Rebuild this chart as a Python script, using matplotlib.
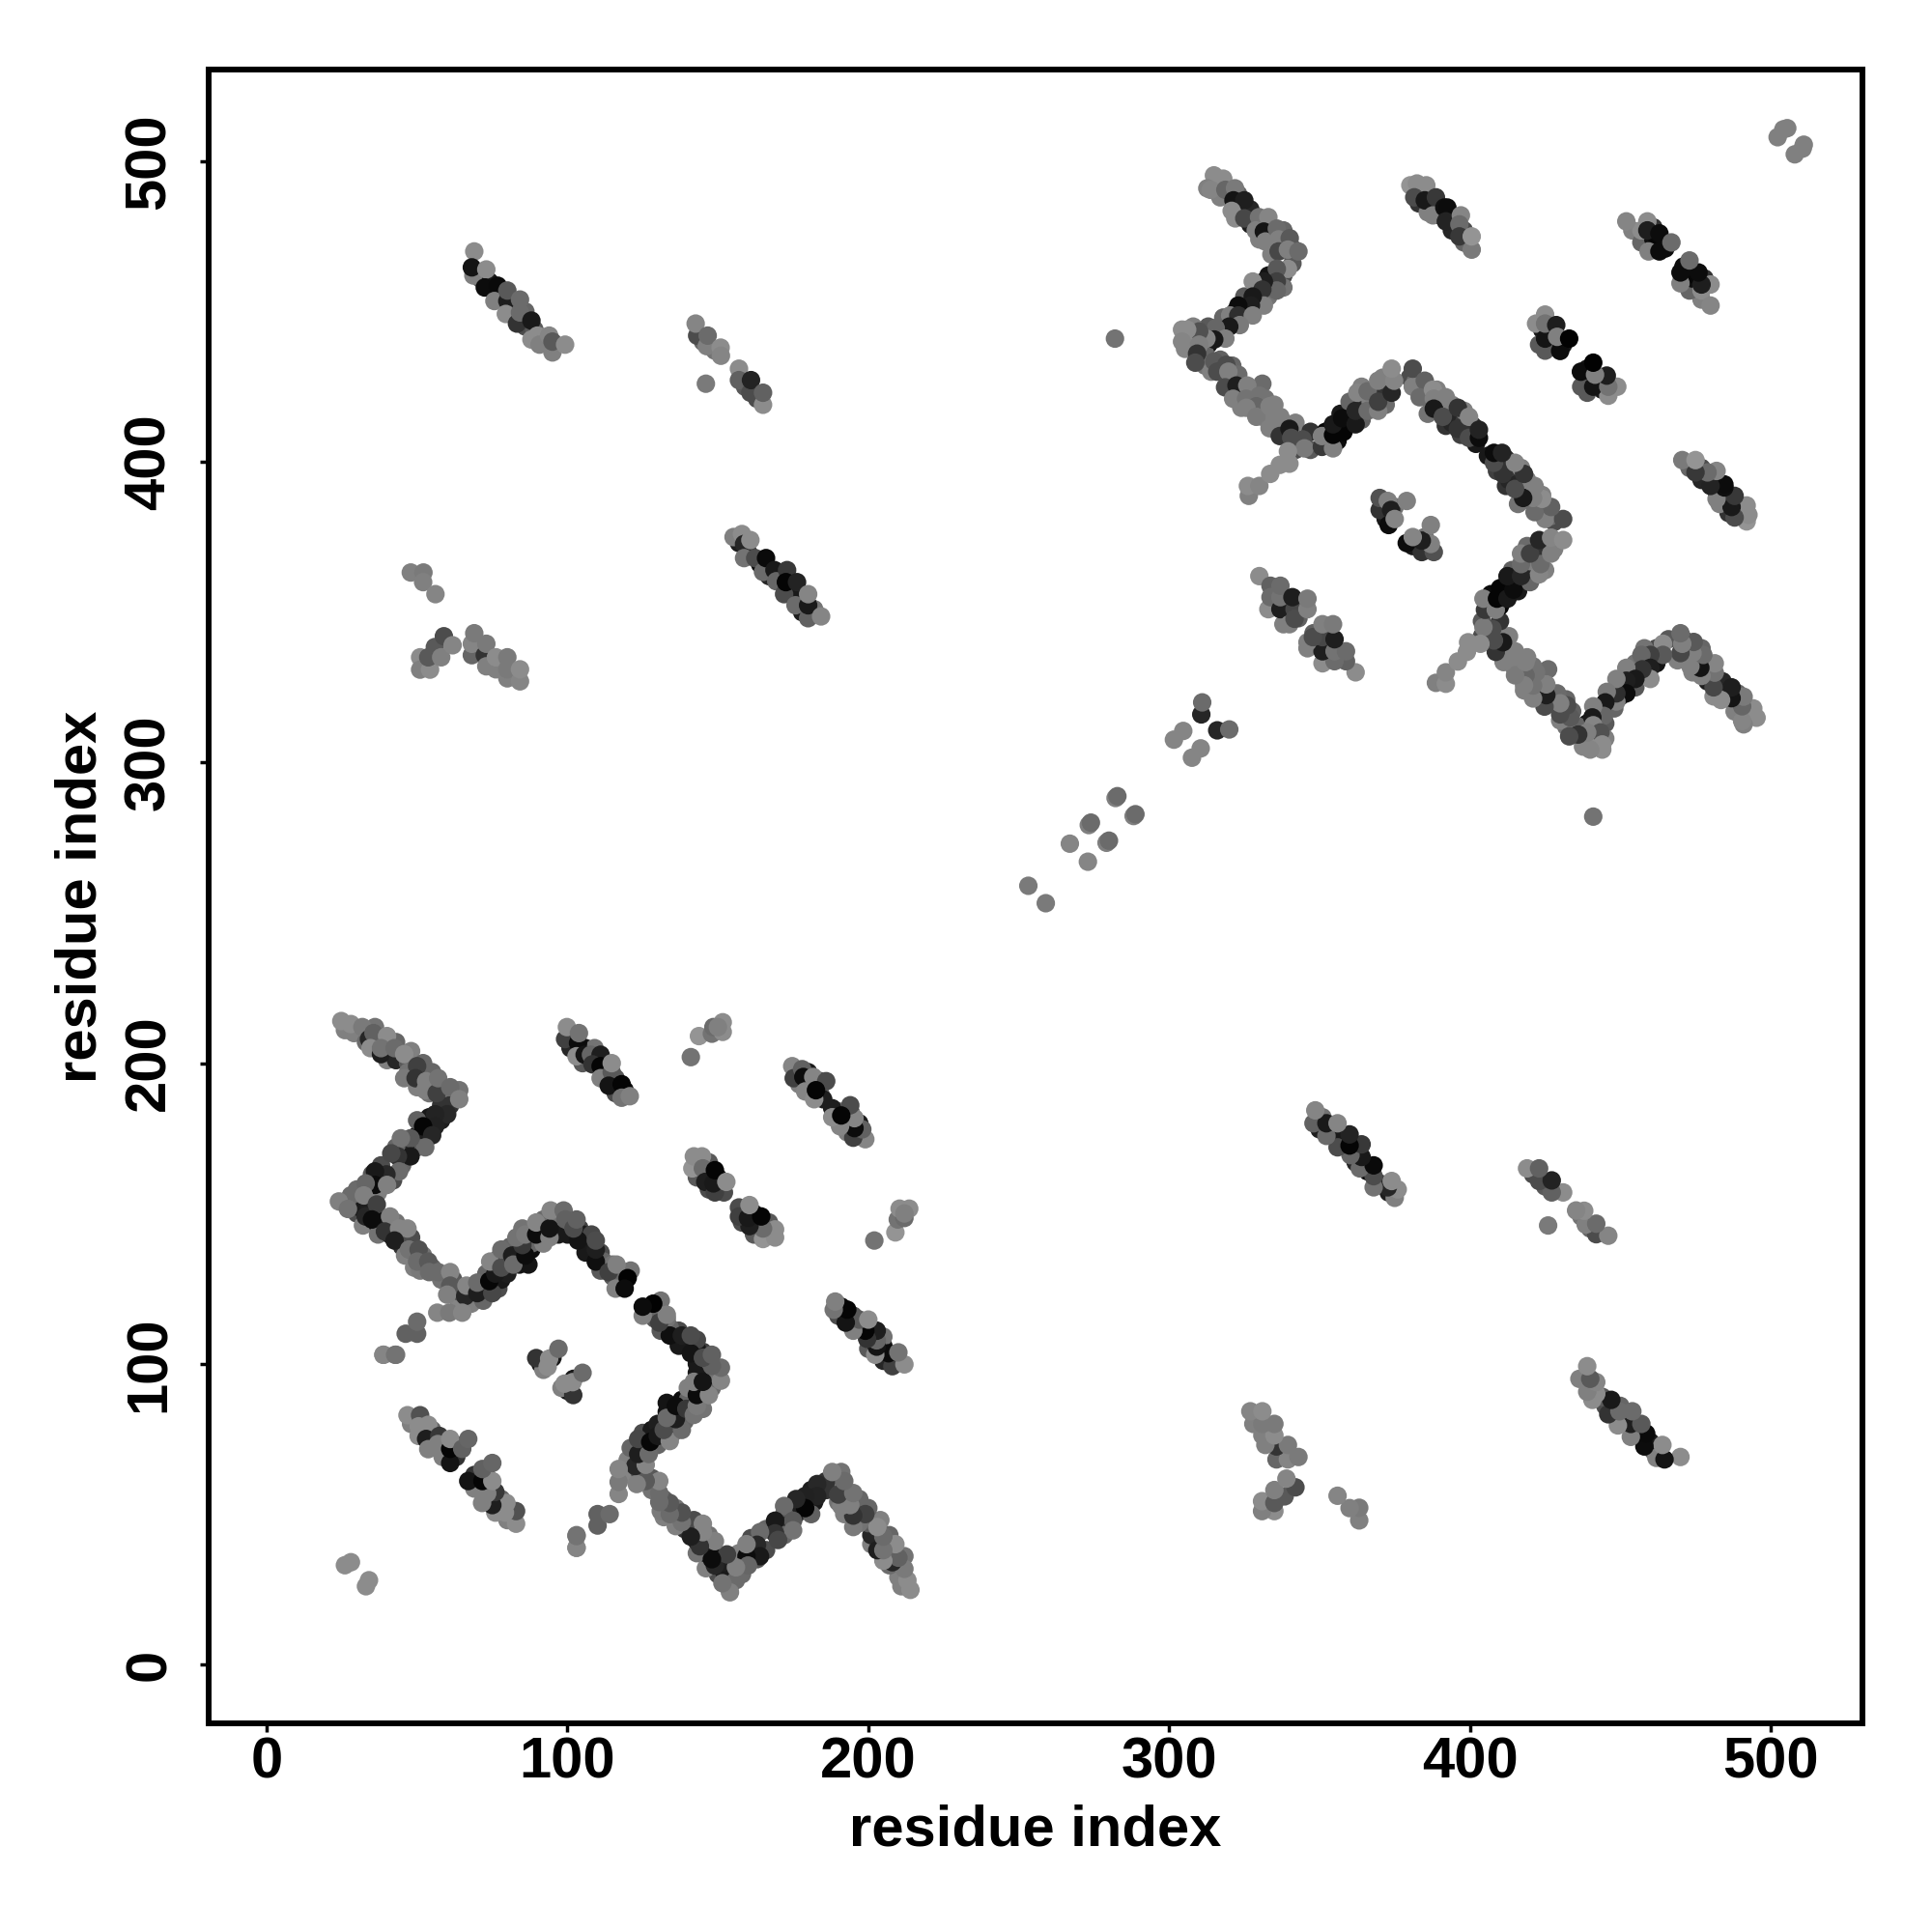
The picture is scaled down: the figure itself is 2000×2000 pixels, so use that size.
import numpy as np
import matplotlib
matplotlib.use("Agg")
import matplotlib.pyplot as plt

plt.rcParams['font.family'] = ['Liberation Sans', 'DejaVu Sans']

# contacts as (residue i, residue j, grey level), only i < j is listed,
# the map is symmetric so the other half is drawn by swapping i and j

# first domain, long zigzag
zigzag_a = [
    (24.8, 214, .55), (28, 213, .55), (31.8, 212, .48), (34, 208, .15), (35.5, 210, .38),
    (34.5, 205, .55), (38, 203, .12), (40, 209, .55), (38, 205, .45), (42.5, 205, .42),
    (45.7, 203, .55), (50, 199, .25), (45.7, 195, .48), (49.5, 195, .2), (53, 194, .5),
    (52.7, 191, .5), (56.5, 190, .25), (57, 195, .45), (61, 192, .42), (64, 188, .5),
    (60, 183, .16), (56, 183, .14), (56, 179, .13), (52, 179, .02), (55, 176, .15),
    (52.7, 172, .42), (47.8, 175, .35), (44.6, 175, .45), (47.8, 169, .1), (43.6, 169, .2),
    (41.4, 170, .28), (44, 164, .42), (39.8, 163, .16), (36, 164, .1), (36, 159.5, .05),
    (40, 159.5, .5), (32.9, 160, .4), (28, 156, .42), (24, 154, .5), (27, 151.5, .45),
    (32.3, 156, .5), (32.9, 149, .15), (36.6, 153, .25), (35, 148, .05), (41, 149, .5),
    (39.3, 144, .2), (44, 145, .52), (46.8, 145, .52), (42.5, 141, .12), (47.3, 138, .45),
    (50.5, 138, .32), (50, 134, .42), (53.7, 134, .35), (54, 130.5, .42), (57, 130.5, .42),
    (61, 130.5, .52), (61, 126, .35), (60, 123, .5), (66, 122.5, .15), (66.4, 126, .52),
    (70, 123.5, .12), (70, 127, .42), (75, 123.5, .28), (74, 127.5, .03), (76, 130, .1),
    (74.3, 134, .52), (78, 132, .3), (78, 138, .42), (81.6, 136, .12), (82, 133, .42),
    (86, 136, .05), (85, 139.5, .22), (83, 142, .45), (86, 143, .48), (89.6, 143, .05),
    (89.6, 147, .52), (94, 142, .5), (94, 145, .08), (94.4, 151, .52), (98.7, 151, .42),
    (99.3, 148, .38), (103.5, 141, .08), (102, 145, .3), (103, 148, .38), (109.4, 134, .06),
    (109.4, 138, .12), (109.4, 141, .3), (113.7, 130.5, .25), (116.3, 133, .5), (116, 125, .5),
    (120, 128.5, .01), (119, 125, .05),
]
zigzag_a_under = [
    (26, 211, .5), (29, 210, .5), (33, 207, .42), (36, 212, .45), (37, 207, .1), (41, 206, .2),
    (40, 201, .5), (43, 207, .4), (43, 201, .15), (47, 200, .35), (48, 204, .5), (47, 197, .45),
    (51, 196, .15), (52, 200, .4), (50, 192, .5), (55, 197, .4), (54, 190, .45), (58, 192, .3),
    (58, 188, .4), (62, 188, .35), (60, 190, .45), (64, 191, .45),
    (61, 186, .2), (58, 186, .2), (58, 181, .12), (54, 182, .1), (54, 178, .15), (50, 176, .1),
    (50, 181, .38), (52, 175, .12), (50, 172, .35), (46, 172, .15), (43, 172, .4), (45, 166, .4),
    (38, 166, .3), (42, 161, .3), (38, 161, .15), (35, 163, .35), (34, 158, .2), (37, 157, .5),
    (30, 158, .42),
    (26, 154, .5), (29, 153, .45), (30, 150, .3), (32, 146, .5), (31, 152, .1), (34, 152, .12),
    (36, 150, .05), (37, 146, .1), (37, 143, .45), (40, 146, .1), (41, 143, .15), (44, 142, .1),
    (45, 139, .2), (43, 147, .45), (48, 142, .3), (46, 136, .5), (52, 136, .45), (49, 132, .5),
    (51, 131, .48), (55, 132, .4), (58, 128, .45), (62, 128, .35), (62, 123, .45), (64, 120, .52),
    (64, 124, .3),
    (68, 120, .5), (68, 124, .2), (72, 121, .4), (72, 125, .12), (77, 125, .3), (75, 129, .05),
    (78, 128, .1), (73, 130, .4), (80, 130, .12), (77, 135, .42), (79, 135, .05), (84, 133, .08),
    (81, 139, .4), (84, 137, .3), (87, 133, .08), (88, 138, .05), (85, 145, .45), (88, 140, .4),
    (92, 140, .5), (91, 145, .35), (92, 148, .42), (96, 146, .35), (97, 143, .1), (96, 150, .45),
    (100, 143, .1), (104, 145, .25), (105, 143, .1), (101, 147, .4), (106, 140, .05), (108, 143, .28),
    (106, 137, .1), (111, 137, .3), (112, 134, .4), (111, 131, .35), (115, 129, .35), (118, 130, .4),
    (115, 133, .45), (121, 131, .45),
]
zigzag_a_tail = [
    (38.8, 103, .52), (43, 103, .45), (46.2, 110, .38), (50, 110, .38), (50, 114, .42),
    (56.7, 117, .52), (60.7, 117, .48), (65, 117, .52), (26, 33, .55), (28, 34, .55),
    (38.8, 103, .52), (42.7, 103, .45),
]

# first domain, short strands
strand_a1 = [
    (99.2, 208, .25), (99.8, 212, .55), (103.5, 206.7, .05), (103.8, 210, .45), (103, 202.3, .55),
    (105.7, 202.8, .08), (107.8, 202.8, .4), (111, 202.8, .12), (108.3, 199.6, .2), (111, 199, .02),
    (111, 195, .5), (114.7, 197, .35), (114.7, 200, .55), (113.7, 192.5, .08), (118, 193, .02),
    (118, 188.5, .45), (120.7, 189, .5),
]
strand_a2 = [
    (141, 202, .45), (143.7, 209, .58), (148, 209.8, .45), (148.5, 212, .42), (151.6, 210.4, .55),
    (151.6, 213.6, .55), (150, 212, .5),
]
strand_a3 = [
    (174.7, 199, .52), (175.2, 195, .25), (178, 198, .38), (178.4, 195.4, .05), (181.7, 195.4, .52),
    (186, 194, .3), (179, 190.6, .52), (182, 188, .55), (182.6, 191, .02),
]
strand_a4 = [
    (141.5, 165, .58), (142, 169, .55), (144.7, 169, .55), (145, 165, .42), (145.8, 160.5, .12),
    (149, 157, .25), (148.5, 160, .1), (149, 164.4, .02), (152.8, 160.5, .55),
]
strand_a5 = [
    (46.8, 82.9, .55), (51, 82.9, .32), (50.5, 79.2, .55), (53.7, 79.7, .55), (50.5, 76, .55),
    (53, 75, .12), (53.7, 71.6, .5), (57.4, 76, .22), (56.9, 73.3, .5), (58.5, 69, .5),
    (61, 67, .08), (61, 71.7, .02), (61, 75, .55), (65, 71.7, .38), (67, 75, .4),
]
strand_a6 = [
    (89.6, 101.9, .2), (93.4, 99, .55), (93.9, 101.7, .55), (97, 105, .42),
]
strand_under = [
    (101, 205, .15), (102, 209, .4), (106, 205, .1), (109, 205, .45), (105, 200, .35), (112, 198, .2),
    (116, 195, .35), (116, 190, .3), (119, 191, .05),
    (176, 197, .4), (177, 193, .5), (180, 197, .1), (180, 193, .08), (184, 194, .3), (184, 190, .45),
    (183, 193, .1), (185, 188, .12),
    (143, 167, .45), (143, 162, .35), (147, 167, .35), (147, 163, .1), (147, 158, .3), (150, 162, .1),
    (150, 159, .05), (152, 157, .3),
    (48, 80, .5), (52, 77, .3), (55, 78, .4), (55, 73, .15), (58, 72, .2), (59, 74, .4), (63, 69, .2),
    (63, 73, .3), (60, 69, .4),
    (91, 100, .1), (95, 102, .1), (92, 98, .5),
    (383, 490, .45), (383, 486, .2), (386, 483, .5), (389, 485, .12), (390, 482, .15), (393, 482, .4),
    (394, 477, .15), (398, 473, .4), (398, 477, .3),
    (454, 477, .5), (457, 473, .4), (461, 474, .06), (461, 478, .2), (462, 472, .03), (465, 471, .05),
    (424, 444, .1), (427, 443, .4), (427, 439, .05), (431, 439, .1), (423, 439, .35),
    (371, 386, .2), (372, 381, .1), (375, 385, .45),
    (335, 356, .35), (335, 352, .1), (339, 353, .12), (339, 349, .45), (343, 352, .4), (343, 348, .38),
    (338, 346, .5),
]

# contacts between the two domains
cross_under = [
    (70, 463, .3), (71, 461, .4), (74, 460, .1), (78, 456, .1), (82, 452, .3), (86, 450, .4),
    (86, 445, .3), (89, 444, .35), (92, 440, .4),
    (145, 440, .4), (149, 437, .45), (159, 425, .35), (163, 421, .3),
    (157, 373, .12), (160, 370, .2), (164, 366, .05), (167, 362, .15), (170, 362, .05), (174, 358, .12),
    (177, 355, .1), (178, 350, .12), (182, 351, .45),
    (70, 337, .45), (75, 333, .15), (78, 333, .45), (82, 330, .45),
]
cross_1 = [
    (69, 470, .55), (68.7, 462, .5), (68.2, 464.7, .08), (73, 464, .55), (72.5, 458, .05),
    (76.8, 458.6, .04), (75.7, 453.5, .5), (80, 453.5, .12), (80, 457, .35), (79.5, 449.2, .55),
    (83.2, 446, .2), (84.2, 449.7, .42), (84.2, 454, .42), (88, 447, .1), (88, 440.7, .55),
    (90, 442, .55), (90.7, 439, .5), (93.9, 442, .52), (95, 436.4, .5), (95, 440, .35), (99.2, 439, .55),
]
cross_2 = [
    (143.1, 442, .3), (142.6, 446, .52), (146.3, 438.5, .5), (146.6, 442, .42), (150.9, 438, .55),
    (151, 435.3, .52), (157, 431, .55), (157, 427.2, .38), (160.8, 423, .3), (161, 427.2, .14),
    (165, 419, .55), (165, 423, .38), (146, 426, .48),
]
cross_3 = [
    (155.2, 375, .5), (158, 376, .55), (158.7, 372.7, .15), (158.7, 368, .45), (160.8, 374, .55),
    (162.4, 368, .3), (165, 363.4, .42), (166, 368, .04), (168.8, 364, .1), (169.4, 360.3, .4),
    (173, 364, .22), (172, 356, .3), (172.6, 360, .02), (176.3, 360, .14), (175.8, 352.3, .42),
    (180, 348, .38), (180, 352.3, .1), (180, 356, .52), (184.3, 348.6, .52),
]
cross_4 = [
    (47.9, 363.2, .5), (52.1, 363.2, .48), (52, 360, .5), (56.1, 356, .52),
    (51, 335, .55), (51, 330.9, .5), (54.3, 330.9, .55), (53.7, 335, .35), (55.9, 338.4, .35),
    (58, 335, .5), (58.9, 342, .3), (61.8, 339, .52),
    (68.2, 335.7, .4), (68.2, 339.5, .52), (69, 343, .48), (72.5, 335.7, .2), (73, 332, .5),
    (73, 339.5, .48), (76.2, 331, .5), (76.2, 335, .55), (80, 328, .5), (80, 331, .48),
    (80, 335, .48), (84.2, 327, .52), (84.2, 331, .55),
]
cross_5 = [(282, 441, .45)]

# second domain, long zigzag
zigzag_b_under = [
    (316, 492, .5), (320, 488, .12), (317, 488, .5), (323, 489, .4), (323, 484, .35), (327, 484, .15),
    (327, 479, .12), (322, 481, .55), (330, 478, .1), (334, 477, .12), (330, 474, .5), (334, 472, .45),
    (338, 477, .4), (338, 472, .35), (341, 471, .3), (334, 469, .5),
    (341, 466, .35), (338, 462, .3), (338, 458, .45), (333, 462, .08), (333, 455, .45), (329, 457, .1),
    (325, 455, .35), (329, 452, .12), (325, 449, .1), (322, 450, .18), (318, 444, .12), (318, 448, .4),
    (313, 445, .35), (313, 439, .08), (307, 441, .55), (308, 445, .5),
    (312, 436, .4), (312, 432, .45), (317, 434, .38), (314, 430, .5), (321, 428, .3), (321, 432, .4),
    (320, 426, .4), (323, 429, .42), (327, 424, .42), (324, 418, .5), (331, 426, .42), (332, 421, .45),
    (331, 415, .5), (335, 419, .5), (335, 414, .5), (338, 411, .4), (335, 411, .5), (342, 413, .5),
    (342, 404, .3), (347, 410, .2), (347, 404, .35),
    (352, 410, .02), (352, 406, .2), (356, 407, .05), (359, 412, .04), (357, 416, .1), (361, 415, .08),
    (364, 414, .38), (364, 419, .18), (360, 420, .4), (364, 425, .5), (367, 420, .5), (371, 425, .2),
    (372, 419, .42), (371, 428, .5),
    (380, 428, .3), (382, 427, .42), (384, 424, .45), (387, 420, .45), (386, 416, .45), (389, 424, .5),
    (390, 418, .12), (392, 412, .2), (394, 419, .5), (394, 413, .15), (398, 413, .22), (398, 417, .5),
    (401, 412, .2), (397, 409, .25), (402, 406, .1),
]
zigzag_b = [
    (314.9, 495.3, .55), (318, 494.2, .55), (312.7, 491, .5), (313.8, 490.5, .52), (318.7, 490.5, .4),
    (321.9, 491, .48), (321.4, 487, .08), (325, 487, .12), (320.8, 483.5, .55), (325, 481, .28),
    (329.9, 481.4, .45), (333, 481.4, .52), (328.8, 477, .5), (331.5, 476.6, .08), (332, 473.3, .5),
    (335.8, 477.6, .42), (336.4, 474, .5), (340.1, 474.4, .35), (336.4, 470, .28), (339.5, 470.6, .5),
    (343, 470, .42),
    (339.5, 464.2, .55), (335.8, 464.2, .35), (335.8, 460, .25), (335.8, 457, .4), (331.5, 460, .12),
    (327.8, 460, .55), (331, 457.3, .2), (331.5, 452, .5), (327.8, 455, .1), (327.2, 452, .12),
    (323, 452, .05), (320.3, 448.7, .5), (323, 448.7, .18), (327.8, 448.7, .5), (323.5, 445.5, .48),
    (320, 445, .1), (315.5, 444.5, .4), (318.7, 441, .5), (315, 440.7, .1), (312.4, 441, .52),
    (310, 443.4, .32), (306, 444, .55), (304.3, 444, .55), (304.3, 440, .52), (305.3, 437.6, .52),
    (310, 439, .5), (309.3, 436, .2), (308.7, 433, .3), (315, 433.4, .35), (319, 432.3, .3),
    (316, 430, .3), (319.7, 430, .5), (318.6, 424.8, .3), (322.4, 425.4, .12), (326, 425.4, .5),
    (321.3, 421, .5), (325.6, 421, .45), (330, 422, .45), (329, 418.5, .4), (325.7, 418, .5),
    (329, 415, .48), (333.4, 418.5, .5), (333.4, 411.2, .5), (337, 415, .5), (336.8, 408.6, .2),
    (340, 411, .1), (340.6, 408, .3), (344.4, 407.5, .3), (345, 404.5, .48), (350.8, 405, .22),
    (350.8, 408.6, .5), (354.5, 404.5, .5), (354.5, 409, .02), (358, 410, .02), (354.5, 412.5, .1),
    (357.5, 414.5, .05), (362, 412.5, .1), (362, 417, .15), (366, 417, .42), (362.6, 423, .52),
    (366, 423.5, .42), (369.5, 417, .5), (369.5, 420, .25), (369.5, 427, .5), (374, 423, .15),
    (374.8, 427, .52), (374, 431, .55),
    (381, 425, .5), (381, 431, .3), (385, 427, .38), (383.3, 421.5, .42), (387.7, 424, .55),
    (388, 421, .5), (392, 421.5, .5), (388, 417.7, .1), (391, 415, .3), (396, 418, .2),
    (396, 411, .2), (399.7, 415, .52), (399.7, 408, .3), (403, 408, .05), (403, 410.7, .14),
]
zigzag_b_tail = [
    (326.5, 388.7, .5), (326.2, 392, .55), (330, 392, .52), (333.6, 396, .55), (336.8, 399, .55),
    (340, 399.4, .55), (339.5, 403.5, .55),
]

# second domain, short strands
strand_b1 = [
    (380.2, 492, .58), (382.4, 492.6, .55), (385.5, 492, .55), (381.5, 488, .3), (385, 487, .1),
    (388.7, 488, .22), (387.7, 482, .5), (391.5, 484.6, .06), (392.5, 484.6, .05), (392, 480, .14),
    (397, 482, .52), (396.5, 479, .42), (396.5, 475, .22), (400.6, 470.6, .48), (400.6, 475, .58),
]
strand_b2 = [
    (459.4, 470, .5), (463, 470, .05), (457, 477, .55), (459, 480, .55), (452, 480, .52),
    (459, 477, .12), (463, 476, .05), (467, 473, .42),
]
strand_b3 = [
    (422, 446, .55), (425, 449, .55), (425, 437, .35), (425, 441, .08), (425, 446, .45),
    (428.7, 445.5, .12), (430, 436.9, .05), (429, 441.6, .5), (433, 441, .01),
]
strand_b4 = [
    (370, 384, .2), (370, 388, .32), (372.7, 387, .5), (373, 379, .05), (373.8, 384, .12),
    (375, 381, .52), (379, 387, .5),
]
strand_b5 = [
    (330, 362, .55), (333, 351, .55), (333.7, 358.8, .38), (333.7, 355, .42), (337, 351, .12),
    (337, 355, .45), (337, 358.8, .42), (340, 346, .5), (341.7, 351, .28), (341.7, 347.8, .3),
    (341, 355, .12), (346, 351, .5), (346, 354.5, .48),
]

# close to the diagonal
near_diag = [
    (253.2, 259, .48), (267, 273, .52), (273.3, 279.2, .5), (274, 280, .42), (282.2, 288.2, .5),
    (282.8, 288.8, .42), (304.7, 310.5, .52), (301.6, 307.6, .52), (310.7, 316, .15), (311, 320, .42),
    (504.2, 510.6, .5), (505.5, 511, .5), (502.3, 508, .5),
]

clusters = [zigzag_a_under, zigzag_b_under, strand_under, cross_under,
            zigzag_a, zigzag_a_tail, strand_a1, strand_a2, strand_a3, strand_a4, strand_a5, strand_a6,
            cross_1, cross_2, cross_3, cross_4, cross_5,
            zigzag_b, zigzag_b_tail, strand_b1, strand_b2, strand_b3, strand_b4, strand_b5, near_diag]

tick_values = [0, 100, 200, 300, 400, 500]

contacts = np.array([p for c in clusters for p in c])
i, j, grey = contacts[:, 0], contacts[:, 1], contacts[:, 2]

fig = plt.figure(figsize=(20, 20), dpi=100)
ax = fig.add_axes([216 / 2000, 216 / 2000, 1712 / 2000, 1712 / 2000])

ax.scatter(np.concatenate([i, j]), np.concatenate([j, i]), c=np.concatenate([grey, grey]),
           cmap="gray", vmin=0, vmax=1, s=190, linewidths=0, clip_on=False)

ax.set_xlim(-19.3, 530.5)
ax.set_ylim(-19.6, 530.5)
ax.set_xticks(tick_values)
ax.set_yticks(tick_values)
ax.tick_params(length=6.5, width=2.5, labelsize=43)
ax.tick_params(axis="x", pad=3)
ax.tick_params(axis="y", labelrotation=90, pad=17.5)
for lab in ax.get_xticklabels() + ax.get_yticklabels():
    lab.set_fontweight("bold")
for lab in ax.get_yticklabels():
    lab.set_va("center")
for s in ax.spines.values():
    s.set_linewidth(4.3)

ax.set_xlabel("residue index", fontsize=43, fontweight="bold")
ax.set_ylabel("residue index", fontsize=43, fontweight="bold")
ax.xaxis.set_label_coords(0.5, -0.049)
ax.yaxis.set_label_coords(-0.0613, 0.5)

fig.savefig("out.png", dpi=100)
